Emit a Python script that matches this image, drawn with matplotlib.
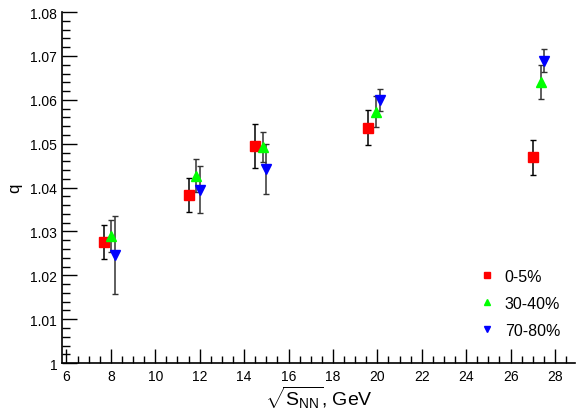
import matplotlib.pyplot as plt
from matplotlib.ticker import MultipleLocator

plt.rcParams['font.family'] = ['Liberation Sans', 'DejaVu Sans']
plt.rcParams['mathtext.fontset'] = 'custom'
plt.rcParams['mathtext.rm'] = 'Liberation Sans'
plt.rcParams['mathtext.it'] = 'Liberation Sans:italic'

# q parameter vs collision energy for three centrality classes
x_05 = [7.7, 11.5, 14.5, 19.6, 27.0]
q_05 = [1.0276, 1.0383, 1.0495, 1.0536, 1.0469]
e_05 = [0.0039, 0.0038, 0.0050, 0.0040, 0.0040]

x_3040 = [8.0, 11.85, 14.85, 19.95, 27.35]
q_3040 = [1.0290, 1.0427, 1.0492, 1.0573, 1.0641]
e_3040 = [0.0037, 0.0038, 0.0034, 0.0036, 0.0039]

x_7080 = [8.2, 12.0, 15.0, 20.1, 27.5]
q_7080 = [1.0246, 1.0395, 1.0443, 1.0600, 1.0689]
e_7080 = [0.0089, 0.0054, 0.0057, 0.0025, 0.0026]

fig = plt.figure(figsize=(5.77, 4.10), dpi=100)
ax = fig.add_axes([0.1075, 0.112, 0.889, 0.856])

ax.errorbar(x_05, q_05, yerr=e_05, fmt='none', ecolor='black', elinewidth=1.1, capsize=2, capthick=1)
ax.errorbar(x_3040, q_3040, yerr=e_3040, fmt='none', ecolor='#333333', elinewidth=1.1, capsize=2, capthick=1)
ax.errorbar(x_7080, q_7080, yerr=e_7080, fmt='none', ecolor='#333333', elinewidth=1.1, capsize=2, capthick=1)

ax.plot(x_05, q_05, 's', color='#ff0000', ms=6.5, ls='none', label='0-5%')
ax.plot(x_3040, q_3040, '^', color='#00ff00', ms=6.5, ls='none', label='30-40%')
ax.plot(x_7080, q_7080, 'v', color='#0000ff', ms=6.5, ls='none', label='70-80%')

ax.set_xlim(5.8, 28.9)
ax.set_ylim(1.0, 1.08)
ax.xaxis.set_major_locator(MultipleLocator(2))
ax.xaxis.set_minor_locator(MultipleLocator(0.5))
ax.yaxis.set_major_locator(MultipleLocator(0.01))
ax.yaxis.set_minor_locator(MultipleLocator(0.002))
ax.yaxis.set_major_formatter(plt.FuncFormatter(lambda v, p: '1' if abs(v - 1) < 1e-9 else '%.2f' % v))

ax.tick_params(axis='both', which='both', direction='in', labelsize=10, width=1)
ax.tick_params(axis='y', which='major', length=11)
ax.tick_params(axis='y', which='minor', length=6)
ax.tick_params(axis='x', which='major', length=10)
ax.tick_params(axis='x', which='minor', length=5)
ax.tick_params(axis='x', pad=4)

ax.spines['top'].set_visible(False)
ax.spines['right'].set_visible(False)
ax.spines['left'].set_linewidth(1.2)
ax.spines['bottom'].set_linewidth(1.2)

ax.set_xlabel(r'$\sqrt{\mathrm{S_{NN}}}$, GeV', fontsize=14, labelpad=1)
ax.set_ylabel('q', fontsize=12, labelpad=6)

leg = ax.legend(loc='upper left', bbox_to_anchor=(0.785, 0.31), frameon=False, fontsize=11.5,
                markerscale=0.7, handlelength=1.0, handletextpad=0.6, labelspacing=0.75)

fig.savefig('out.png', dpi=100)
